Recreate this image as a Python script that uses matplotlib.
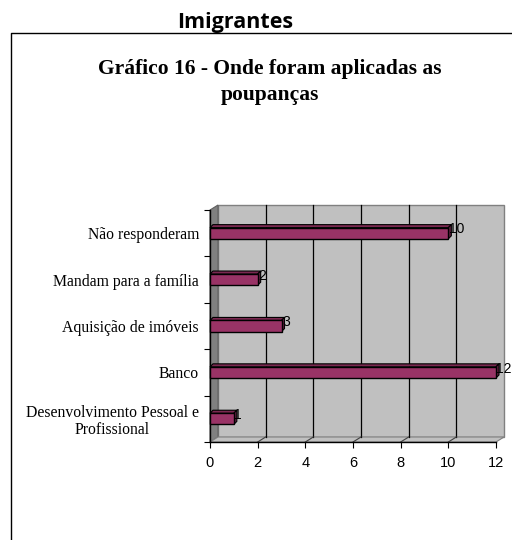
import matplotlib
matplotlib.use("Agg")
import numpy as np
from matplotlib import pyplot as plt
from matplotlib.patches import Polygon, Rectangle
from matplotlib.lines import Line2D

# dados do gráfico (de baixo para cima)
categorias = ["Desenvolvimento Pessoal e\nProfissional", "Banco",
              "Aquisição de imóveis", "Mandam para a família",
              "Não responderam"]
valores = [1, 12, 3, 2, 10]
ticks_x = [0, 2, 4, 6, 8, 10, 12]

titulo_topo = "Imigrantes"
titulo_grafico = "Gráfico 16 - Onde foram aplicadas as\npoupanças"

W, H = 512, 540
fig = plt.figure(figsize=(W / 100, H / 100), dpi=100)

# moldura
fig.add_artist(Line2D([11 / W, 11 / W, 1], [0, 1 - 33 / H, 1 - 33 / H],
                      color="black", lw=1, transform=fig.transFigure))

fig.text(235 / W, 1 - 28 / H, titulo_topo, ha="center", va="baseline",
         fontsize=15.5, fontweight="bold", family="Open Sans")
fig.text(270 / W, 1 - 82 / H, titulo_grafico, ha="center", va="center",
         fontsize=15.5, fontweight="bold", family="Liberation Serif",
         linespacing=1.45)

# área do gráfico (plano da frente)
x0, x1, y0, y1 = 210, 496, 210, 442
ax = fig.add_axes([x0 / W, 1 - y1 / H, (x1 - x0) / W, (y1 - y0) / H])
xmax = 12
ax.set_xlim(0, xmax)
ax.set_ylim(-0.5, len(categorias) - 0.5)

# profundidade 3D em unidades de dados
px_x = (x1 - x0) / xmax
px_y = (y1 - y0) / len(categorias)
dx, dy = 8 / px_x, 5 / px_y
ylo, yhi = -0.5, len(categorias) - 0.5

parede = "#C0C0C0"
# parede do fundo
ax.add_patch(Rectangle((dx, ylo + dy), xmax, yhi - ylo, facecolor=parede,
                       edgecolor="#808080", lw=1, clip_on=False, zorder=0))
# parede lateral
ax.add_patch(Polygon([(0, ylo), (0, yhi), (dx, yhi + dy), (dx, ylo + dy)],
                     closed=True, facecolor="#808080", edgecolor="#606060",
                     lw=0.8, clip_on=False, zorder=1))
# piso
ax.add_patch(Polygon([(0, ylo), (xmax, ylo), (xmax + dx, ylo + dy), (dx, ylo + dy)],
                     closed=True, facecolor="#C0C0C0", edgecolor="#808080",
                     lw=0.8, clip_on=False, zorder=1))
# grelha
for t in ticks_x[1:-1]:
    ax.plot([t + dx, t + dx], [ylo + dy, yhi + dy], color="black", lw=0.9,
            zorder=1, clip_on=False)
    ax.plot([t, t + dx], [ylo, ylo + dy], color="#404040", lw=0.8,
            zorder=1, clip_on=False)

# barras 3D
cor = "#993366"
alt = 0.24
bx, by = 3 / px_x, 3 / px_y
for i, v in enumerate(valores):
    b = i - alt / 2
    t = i + alt / 2
    ax.add_patch(Polygon([(0, t), (v, t), (v + bx, t + by), (bx, t + by)],
                         closed=True, facecolor="#7A2850", edgecolor="black",
                         lw=0.8, zorder=3, clip_on=False))
    ax.add_patch(Polygon([(v, b), (v, t), (v + bx, t + by), (v + bx, b + by)],
                         closed=True, facecolor="#5E1E3E", edgecolor="black",
                         lw=0.8, zorder=3, clip_on=False))
    ax.add_patch(Rectangle((0, b), v, alt, facecolor=cor, edgecolor="black",
                           lw=1, zorder=4, clip_on=False))
    ax.text(v + 0.02, i + 0.08, str(v), ha="left", va="center",
            fontsize=10, family="Liberation Sans", zorder=5)

ax.patch.set_visible(False)
for s in ["top", "right"]:
    ax.spines[s].set_visible(False)
ax.spines["left"].set_linewidth(1)
ax.spines["bottom"].set_linewidth(1)
ax.spines["left"].set_zorder(2)

ax.set_xticks(ticks_x)
ax.set_xticklabels([str(t) for t in ticks_x], family="Liberation Sans",
                   fontsize=10.5)
ax.tick_params(axis="x", direction="out", length=4, pad=6)

ax.set_yticks(np.arange(ylo, yhi + 0.01, 1))
ax.set_yticklabels([])
ax.tick_params(axis="y", which="major", direction="out", length=4)
ax.set_yticks(np.arange(len(categorias)), minor=True)
ax.set_yticklabels(categorias, minor=True, family="Liberation Serif",
                   fontsize=11.3)
ax.tick_params(axis="y", which="minor", length=0, pad=8)
for lab in ax.get_yticklabels(minor=True):
    lab.set_multialignment("center")
    lab.set_linespacing(1.1)

fig.savefig("out.png", dpi=100)
